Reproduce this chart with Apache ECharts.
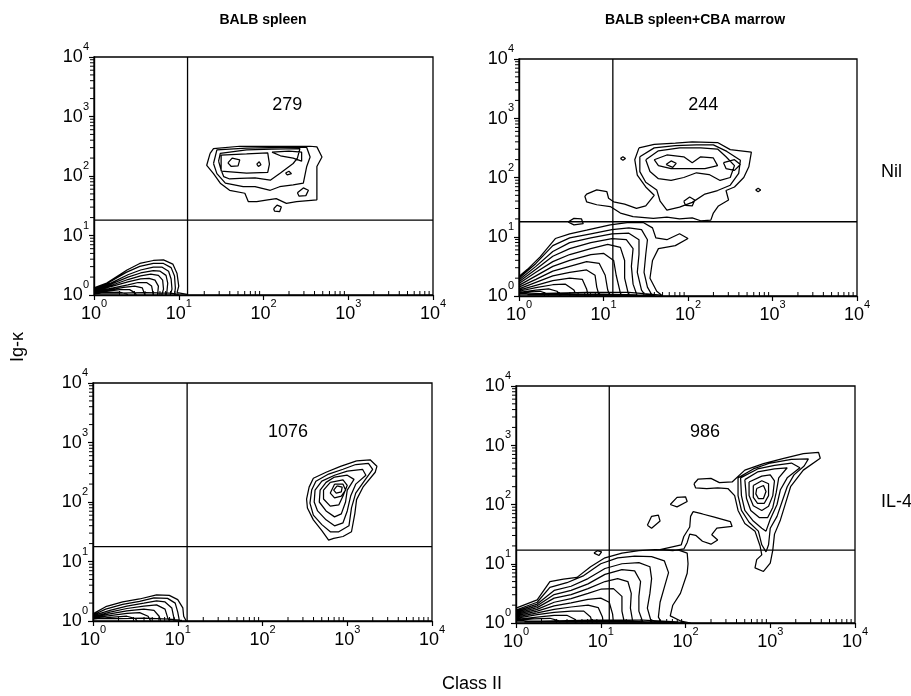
<!DOCTYPE html>
<html>
<head>
<meta charset="utf-8">
<script src="https://cdn.jsdelivr.net/npm/echarts@6/dist/echarts.min.js"></script>
<style>html,body{margin:0;padding:0;background:#fff}#c{width:911px;height:696px}</style>
</head>
<body>
<div id="c"></div>
<script>
// ---------- DATA (contour coordinates are given in decades, i.e. log10 of the value) ----------
const tickExps = ['0', '1', '2', '3', '4'];
const decadeStarts = [1, 10, 100, 1000];
const minorMultipliers = [2, 3, 4, 5, 6, 7, 8, 9];
const panelTitles = ['BALB spleen', 'BALB spleen+CBA marrow'];
const rowLabels = ['Nil', 'IL-4'];
const counts = [279, 244, 1076, 986];
const countPos = [[2.28, 3.19], [2.18, 3.22], [2.30, 3.18], [2.23, 3.22]];
const gateX = [12.7, 12.9, 12.9, 12.6];
const gateY = [18.2, 17.9, 17.8, 17.0];

const p1Upper = [
  [[1.37,2.38],[1.41,2.46],[1.72,2.5],[2.2,2.5],[2.55,2.5],[2.63,2.49],[2.69,2.32],[2.63,2.16],[2.63,1.82],[2.63,1.6],[2.39,1.57],[2.27,1.54],[2.15,1.62],[2.05,1.6],[1.92,1.57],[1.82,1.57],[1.78,1.71],[1.6,1.76],[1.49,1.88],[1.41,2.04],[1.33,2.18]],
  [[1.41,2.21],[1.45,2.44],[1.8,2.47],[2.2,2.48],[2.51,2.48],[2.55,2.32],[2.51,2.16],[2.47,1.88],[2.35,1.85],[2.19,1.82],[2.08,1.76],[1.9,1.82],[1.76,1.82],[1.55,1.88],[1.45,2.04]],
  [[1.47,2.25],[1.49,2.38],[1.8,2.44],[2.1,2.45],[2.43,2.46],[2.4,2.3],[2.35,2.21],[2.2,2.05],[2.08,1.93],[1.9,1.97],[1.72,1.96],[1.6,1.95],[1.53,1.99],[1.5,2.1]],
  [[1.5,2.08],[1.5,2.35],[1.8,2.37],[2.05,2.39],[2.07,2.2],[2.05,2.06],[1.8,2.05]],
  [[1.58,2.22],[1.63,2.3],[1.72,2.27],[1.7,2.17],[1.62,2.16]],
  [[1.92,2.2],[1.95,2.24],[1.97,2.19],[1.94,2.16]],
  [[2.26,2.05],[2.3,2.08],[2.33,2.04],[2.28,2.02]],
  [[2.4,1.72],[2.47,1.8],[2.53,1.76],[2.5,1.67],[2.42,1.66]],
  [[2.12,1.45],[2.16,1.51],[2.21,1.48],[2.19,1.4],[2.13,1.41]],
  [[2.1,2.4],[2.3,2.42],[2.45,2.4],[2.45,2.25],[2.35,2.3],[2.2,2.34]]
];
const p1Lower = [
  [[0,0.12],[0.15,0.2],[0.39,0.42],[0.54,0.53],[0.7,0.58],[0.82,0.59],[0.93,0.52],[0.98,0.36],[1.0,0.15],[0.98,0.04],[1.1,0.01],[1.1,0]],
  [[0,0.11],[0.15,0.19],[0.38,0.38],[0.54,0.48],[0.7,0.53],[0.82,0.53],[0.91,0.46],[0.95,0.32],[0.96,0.12],[0.95,0]],
  [[0,0.1],[0.2,0.2],[0.4,0.34],[0.55,0.42],[0.7,0.47],[0.8,0.47],[0.88,0.4],[0.91,0.27],[0.92,0.1],[0.9,0]],
  [[0,0.09],[0.2,0.18],[0.4,0.3],[0.55,0.37],[0.7,0.41],[0.78,0.4],[0.85,0.33],[0.87,0.2],[0.86,0.05],[0.85,0]],
  [[0,0.08],[0.2,0.16],[0.4,0.26],[0.55,0.32],[0.67,0.35],[0.76,0.33],[0.81,0.25],[0.82,0.1],[0.8,0]],
  [[0,0.07],[0.2,0.14],[0.4,0.22],[0.55,0.27],[0.65,0.28],[0.72,0.25],[0.76,0.15],[0.75,0]],
  [[0,0.06],[0.2,0.11],[0.4,0.17],[0.52,0.21],[0.62,0.21],[0.68,0.15],[0.7,0]],
  [[0,0.05],[0.2,0.09],[0.35,0.13],[0.48,0.15],[0.57,0.12],[0.6,0]],
  [[0,0.04],[0.15,0.06],[0.3,0.09],[0.42,0.09],[0.48,0.04],[0.5,0]],
  [[0,0.02],[0.15,0.04],[0.3,0.05],[0.38,0.02],[0.4,0]],
  [[0,0.03],[0.3,0.03],[0.6,0.04],[0.9,0.03],[1.0,0.01]]
];
const p2Upper = [
  [[1.42,2.5],[1.6,2.56],[1.85,2.58],[2.05,2.6],[2.35,2.59],[2.5,2.47],[2.75,2.43],[2.72,2.18],[2.66,2.0],[2.55,1.84],[2.45,1.78],[2.48,1.62],[2.36,1.52],[2.3,1.4],[2.27,1.28],[2.15,1.27],[2.05,1.32],[1.9,1.3],[1.75,1.33],[1.59,1.31],[1.35,1.34],[1.2,1.4],[1.08,1.51],[0.92,1.54],[0.8,1.59],[0.78,1.68],[0.8,1.72],[0.92,1.79],[1.04,1.76],[1.06,1.65],[1.12,1.59],[1.25,1.55],[1.39,1.48],[1.5,1.52],[1.6,1.7],[1.5,1.84],[1.4,2.04],[1.37,2.3]],
  [[1.43,2.35],[1.6,2.5],[1.85,2.54],[2.1,2.55],[2.3,2.55],[2.46,2.44],[2.62,2.29],[2.6,2.07],[2.5,1.87],[2.35,1.78],[2.2,1.72],[2.05,1.58],[1.9,1.5],[1.75,1.45],[1.67,1.6],[1.63,1.79],[1.5,1.92],[1.43,2.1]],
  [[1.5,2.3],[1.65,2.45],[1.9,2.5],[2.15,2.5],[2.35,2.48],[2.45,2.35],[2.55,2.2],[2.5,2.0],[2.38,1.95],[2.25,2.05],[2.1,2.08],[1.95,2.0],[1.8,1.95],[1.65,1.98],[1.55,2.1]],
  [[1.6,2.3],[1.75,2.38],[1.95,2.35],[2.05,2.25],[2.15,2.35],[2.3,2.33],[2.35,2.2],[2.2,2.15],[2.0,2.15],[1.8,2.15],[1.65,2.2]],
  [[1.74,2.22],[1.8,2.28],[1.86,2.24],[1.82,2.17]],
  [[1.95,1.6],[2.02,1.67],[2.08,1.62],[2.05,1.52],[1.97,1.53]],
  [[2.42,2.25],[2.55,2.3],[2.62,2.22],[2.55,2.12],[2.45,2.15]],
  [[1.2,2.32],[1.23,2.35],[1.26,2.32],[1.23,2.29]],
  [[2.8,1.79],[2.83,1.82],[2.86,1.79],[2.83,1.76]],
  [[0.58,1.25],[0.65,1.31],[0.74,1.3],[0.76,1.22],[0.65,1.2]]
];
const p2Lower = [
  [[0,0.33],[0.1,0.45],[0.25,0.66],[0.43,0.97],[0.6,1.05],[0.8,1.11],[1.08,1.2],[1.28,1.24],[1.47,1.24],[1.58,1.15],[1.62,0.98],[1.75,0.95],[1.9,1.05],[2.0,0.97],[1.85,0.85],[1.65,0.8],[1.58,0.6],[1.55,0.3],[1.63,0.08],[1.7,0]],
  [[0,0.3],[0.2,0.55],[0.4,0.85],[0.6,0.98],[0.85,1.05],[1.1,1.12],[1.3,1.15],[1.45,1.12],[1.52,0.95],[1.5,0.7],[1.48,0.4],[1.52,0.15],[1.58,0]],
  [[0,0.27],[0.2,0.5],[0.4,0.75],[0.6,0.9],[0.85,0.98],[1.1,1.05],[1.3,1.06],[1.42,0.95],[1.42,0.7],[1.4,0.4],[1.45,0.1],[1.5,0]],
  [[0,0.24],[0.2,0.45],[0.4,0.67],[0.6,0.8],[0.85,0.9],[1.1,0.97],[1.27,0.95],[1.35,0.8],[1.33,0.5],[1.35,0.2],[1.4,0]],
  [[0,0.21],[0.2,0.4],[0.4,0.58],[0.6,0.7],[0.85,0.8],[1.05,0.87],[1.2,0.82],[1.25,0.6],[1.25,0.3],[1.3,0]],
  [[0,0.18],[0.2,0.34],[0.4,0.5],[0.6,0.6],[0.85,0.7],[1.0,0.72],[1.12,0.6],[1.15,0.35],[1.2,0.05],[1.22,0]],
  [[0,0.15],[0.2,0.28],[0.4,0.42],[0.6,0.5],[0.8,0.58],[0.95,0.55],[1.02,0.35],[1.05,0.1],[1.08,0]],
  [[0,0.12],[0.2,0.23],[0.4,0.34],[0.6,0.4],[0.8,0.44],[0.9,0.35],[0.92,0.15],[0.95,0]],
  [[0,0.1],[0.2,0.18],[0.4,0.26],[0.6,0.3],[0.75,0.28],[0.8,0.12],[0.82,0]],
  [[0,0.08],[0.2,0.14],[0.4,0.19],[0.55,0.2],[0.65,0.1],[0.68,0]],
  [[0,0.06],[0.2,0.1],[0.35,0.12],[0.45,0.08],[0.5,0]],
  [[0,0.03],[0.2,0.04],[0.8,0.06],[1.3,0.06],[1.65,0.02],[1.7,0]],
  [[0,0.04],[0.15,0.07],[0.25,0.08],[0.33,0.04],[0.35,0]],
  [[0.1,0.02],[0.5,0.03],[1.0,0.03],[1.4,0.02],[1.6,0.01]]
];
const p3Upper = [
  [[3.11,2.69],[3.27,2.71],[3.35,2.6],[3.33,2.5],[3.19,2.26],[3.11,2.04],[3.09,1.81],[3.05,1.5],[2.95,1.42],[2.84,1.39],[2.78,1.36],[2.7,1.52],[2.6,1.7],[2.53,1.9],[2.52,2.05],[2.55,2.25],[2.6,2.4],[2.75,2.5],[2.92,2.6]],
  [[3.1,2.63],[3.25,2.65],[3.3,2.55],[3.2,2.35],[3.1,2.15],[3.05,1.9],[3.02,1.6],[2.9,1.5],[2.8,1.5],[2.7,1.62],[2.6,1.78],[2.56,1.98],[2.58,2.2],[2.63,2.35],[2.78,2.47],[2.95,2.55]],
  [[3.0,2.52],[3.18,2.55],[3.22,2.45],[3.1,2.3],[3.04,2.1],[3.0,1.85],[2.95,1.65],[2.85,1.6],[2.75,1.7],[2.65,1.85],[2.61,2.0],[2.62,2.2],[2.7,2.35],[2.85,2.45]],
  [[2.85,2.42],[3.0,2.45],[3.08,2.38],[3.0,2.2],[2.98,2.0],[2.93,1.8],[2.85,1.75],[2.75,1.85],[2.67,2.0],[2.68,2.2],[2.75,2.33]],
  [[2.8,2.33],[2.95,2.37],[3.0,2.28],[2.95,2.1],[2.9,1.95],[2.8,1.93],[2.72,2.05],[2.72,2.2]],
  [[2.85,2.3],[2.95,2.3],[2.98,2.2],[2.93,2.1],[2.85,2.07],[2.8,2.15]],
  [[2.88,2.27],[2.94,2.25],[2.93,2.17],[2.87,2.15],[2.84,2.2]]
];
const p3Lower = [
  [[0,0.12],[0.15,0.24],[0.35,0.32],[0.55,0.37],[0.75,0.44],[0.9,0.43],[1.0,0.36],[1.06,0.22],[1.07,0.08],[1.1,0]],
  [[0,0.1],[0.15,0.2],[0.35,0.28],[0.55,0.33],[0.72,0.39],[0.88,0.38],[0.97,0.3],[1.0,0.15],[1.02,0]],
  [[0,0.09],[0.2,0.18],[0.4,0.25],[0.6,0.3],[0.75,0.34],[0.85,0.32],[0.93,0.22],[0.95,0.08],[0.97,0]],
  [[0,0.07],[0.2,0.15],[0.4,0.21],[0.6,0.25],[0.75,0.27],[0.85,0.2],[0.88,0.06],[0.9,0]],
  [[0,0.06],[0.2,0.12],[0.4,0.17],[0.6,0.2],[0.72,0.18],[0.78,0.08],[0.8,0]],
  [[0,0.05],[0.2,0.09],[0.4,0.13],[0.55,0.14],[0.65,0.08],[0.68,0]],
  [[0,0.03],[0.2,0.06],[0.4,0.08],[0.5,0.04],[0.52,0]],
  [[0,0.04],[0.3,0.04],[0.6,0.05],[0.9,0.03],[1.05,0.01]]
];
const p4Upper = [
  [[2.1,2.35],[2.15,2.43],[2.3,2.44],[2.4,2.37],[2.55,2.38],[2.7,2.58],[2.92,2.69],[3.16,2.78],[3.39,2.86],[3.57,2.88],[3.59,2.78],[3.39,2.58],[3.24,2.3],[3.18,2.02],[3.12,1.74],[3.05,1.5],[3.03,1.23],[3.0,1.01],[2.92,0.87],[2.82,0.93],[2.84,1.07],[2.9,1.15],[2.88,1.3],[2.82,1.55],[2.7,1.68],[2.62,1.9],[2.58,2.15],[2.5,2.27],[2.38,2.28],[2.25,2.27],[2.12,2.28]],
  [[2.62,2.45],[2.8,2.6],[3.0,2.7],[3.25,2.76],[3.45,2.77],[3.4,2.65],[3.28,2.5],[3.2,2.3],[3.14,2.05],[3.08,1.8],[3.0,1.6],[2.98,1.32],[2.95,1.2],[2.9,1.32],[2.86,1.55],[2.75,1.7],[2.66,1.9],[2.62,2.15]],
  [[2.65,2.45],[2.85,2.6],[3.05,2.66],[3.25,2.7],[3.35,2.62],[3.2,2.45],[3.12,2.25],[3.08,2.0],[3.0,1.75],[2.95,1.55],[2.9,1.6],[2.8,1.72],[2.7,1.9],[2.66,2.15]],
  [[2.7,2.42],[2.85,2.55],[3.05,2.6],[3.2,2.62],[3.1,2.45],[3.07,2.2],[3.03,1.95],[2.97,1.78],[2.87,1.78],[2.77,1.9],[2.72,2.1]],
  [[2.75,2.38],[2.9,2.48],[3.0,2.5],[3.05,2.4],[3.03,2.15],[2.98,1.97],[2.9,1.9],[2.8,1.98],[2.75,2.15]],
  [[2.8,2.32],[2.9,2.4],[2.98,2.35],[2.98,2.15],[2.93,2.02],[2.85,2.02],[2.8,2.12]],
  [[2.84,2.27],[2.92,2.32],[2.95,2.22],[2.92,2.1],[2.86,2.1],[2.83,2.18]],
  [[1.82,2.0],[1.9,2.12],[2.0,2.13],[2.02,2.05],[1.9,1.96]],
  [[1.55,1.65],[1.6,1.8],[1.68,1.82],[1.7,1.72],[1.6,1.6]],
  [[2.09,1.88],[2.2,1.84],[2.33,1.79],[2.53,1.71],[2.55,1.63],[2.37,1.6],[2.31,1.49],[2.38,1.4],[2.3,1.33],[2.2,1.38],[2.12,1.48],[2.05,1.5],[2.02,1.36],[1.98,1.25],[1.85,1.22],[1.7,1.24],[1.95,1.32],[1.98,1.46],[2.05,1.62],[2.06,1.8]],
  [[0.92,1.18],[0.96,1.22],[1.01,1.2],[0.98,1.14]]
];
const p4Lower = [
  [[0,0.25],[0.25,0.39],[0.4,0.7],[0.56,0.74],[0.72,0.77],[0.88,0.95],[1.05,1.1],[1.25,1.18],[1.45,1.22],[1.64,1.24],[1.92,1.23],[2.02,1.18],[2.03,1.0],[2.02,0.84],[1.94,0.5],[1.85,0.3],[1.82,0.12],[1.95,0.03],[2.06,0]],
  [[0,0.22],[0.25,0.35],[0.4,0.6],[0.6,0.68],[0.8,0.8],[1.0,1.0],[1.2,1.1],[1.4,1.13],[1.6,1.12],[1.75,1.05],[1.8,0.85],[1.75,0.6],[1.7,0.35],[1.68,0.1],[1.72,0]],
  [[0,0.2],[0.25,0.32],[0.45,0.55],[0.65,0.62],[0.85,0.75],[1.05,0.92],[1.25,1.0],[1.45,1.02],[1.58,0.95],[1.6,0.75],[1.58,0.5],[1.55,0.25],[1.6,0]],
  [[0,0.18],[0.25,0.29],[0.45,0.48],[0.65,0.55],[0.85,0.66],[1.05,0.82],[1.25,0.9],[1.4,0.88],[1.47,0.7],[1.45,0.45],[1.45,0.2],[1.5,0]],
  [[0,0.16],[0.25,0.26],[0.45,0.42],[0.65,0.48],[0.85,0.58],[1.05,0.7],[1.2,0.75],[1.32,0.7],[1.36,0.5],[1.35,0.25],[1.38,0]],
  [[0,0.14],[0.25,0.23],[0.45,0.35],[0.65,0.41],[0.85,0.5],[1.0,0.57],[1.15,0.58],[1.25,0.45],[1.25,0.2],[1.28,0]],
  [[0,0.12],[0.25,0.2],[0.45,0.29],[0.65,0.34],[0.85,0.4],[1.0,0.42],[1.1,0.35],[1.14,0.15],[1.15,0]],
  [[0,0.1],[0.25,0.17],[0.45,0.23],[0.65,0.27],[0.85,0.3],[0.97,0.26],[1.02,0.1],[1.03,0]],
  [[0,0.08],[0.25,0.14],[0.45,0.18],[0.65,0.2],[0.8,0.2],[0.88,0.1],[0.9,0]],
  [[0,0.06],[0.25,0.1],[0.45,0.13],[0.6,0.13],[0.7,0.06],[0.72,0]],
  [[0,0.04],[0.2,0.07],[0.4,0.08],[0.5,0.04],[0.52,0]],
  [[0,0.03],[0.3,0.03],[0.9,0.05],[1.5,0.05],[1.9,0.02],[2.0,0]],
  [[0.1,0.02],[0.6,0.03],[1.2,0.03],[1.7,0.015],[1.9,0.01]]
];
const panelContours = [p1Upper.concat(p1Lower), p2Upper.concat(p2Lower), p3Upper.concat(p3Lower), p4Upper.concat(p4Lower)];

// ---------- LAYOUT ----------
const FONT = "'Liberation Sans', Arial, Helvetica, sans-serif";
const grids = [
  {left: 94, top: 57, width: 339, height: 238},
  {left: 519, top: 59, width: 338, height: 237},
  {left: 93, top: 383, width: 339, height: 238},
  {left: 516, top: 386, width: 339, height: 237}
];
const dec = v => Math.pow(10, v);

function contourData(list) {
  const out = [];
  list.forEach(c => {
    c.forEach(p => out.push([dec(p[0]), dec(p[1])]));
    const f = c[0];
    if (f[0] > 0 && f[1] > 0) out.push([dec(f[0]), dec(f[1])]); // closed loop
    out.push(['-', '-']);
  });
  return out;
}

// minor tick values (2..9 in each decade), drawn through the axes' own scale
const minorVals = [];
decadeStarts.forEach(d => minorMultipliers.forEach(m => minorVals.push(d * m)));
const minorTickData = [];
minorVals.forEach(v => { minorTickData.push([v, 1, 0]); minorTickData.push([1, v, 1]); });

const rich = {
  b: {fontSize: 18, fontFamily: FONT, color: '#000', lineHeight: 25, verticalAlign: 'bottom'},
  s: {fontSize: 11, fontFamily: FONT, color: '#000', lineHeight: 12, verticalAlign: 'top'}
};
const fmt = (v, i) => '{b|10}{s|' + tickExps[i] + '}';

const xAxis = [], yAxis = [], series = [];
grids.forEach((g, i) => {
  xAxis.push({
    type: 'log', logBase: 10, min: 1, max: 10000, gridIndex: i,
    axisLine: {lineStyle: {color: '#000', width: 1.4}},
    axisTick: {show: true, inside: false, length: 5, lineStyle: {color: '#000', width: 1.2}},
    minorTick: {show: false}, splitLine: {show: false},
    axisLabel: {formatter: fmt, rich: rich, margin: 3}
  });
  yAxis.push({
    type: 'log', logBase: 10, min: 1, max: 10000, gridIndex: i,
    axisLine: {lineStyle: {color: '#000', width: 1.4}},
    axisTick: {show: true, inside: false, length: 5, lineStyle: {color: '#000', width: 1.2}},
    minorTick: {show: false},
    splitLine: {show: false},
    axisLabel: {formatter: fmt, rich: rich, margin: 5, padding: [0, 0, 6, 0]}
  });
  series.push({
    type: 'line', xAxisIndex: i, yAxisIndex: i, symbol: 'none', silent: true,
    connectNulls: false, animation: false,
    lineStyle: {color: '#000', width: 1.25},
    data: contourData(panelContours[i])
  });
  series.push({
    type: 'line', xAxisIndex: i, yAxisIndex: i, symbol: 'none', silent: true,
    connectNulls: false, animation: false,
    lineStyle: {color: '#000', width: 1.3},
    data: [[1, gateY[i]], [10000, gateY[i]], ['-', '-'], [gateX[i], 1], [gateX[i], 10000]]
  });
  series.push({
    type: 'custom', xAxisIndex: i, yAxisIndex: i, silent: true, animation: false, clip: false,
    data: minorTickData,
    renderItem: (params, api) => {
      const p = api.coord([api.value(0), api.value(1)]);
      const isY = api.value(2) === 1;
      return {
        type: 'line',
        shape: isY ? {x1: p[0] - 4, y1: p[1], x2: p[0], y2: p[1]} : {x1: p[0], y1: p[1], x2: p[0], y2: p[1] - 4},
        style: {stroke: '#000', lineWidth: 1}
      };
    }
  });
  series.push({
    type: 'scatter', xAxisIndex: i, yAxisIndex: i, symbolSize: 0, silent: true, animation: false,
    itemStyle: {opacity: 1},
    data: [[dec(countPos[i][0]), dec(countPos[i][1]), counts[i]]],
    label: {show: true, position: 'inside', formatter: p => String(p.value[2]), opacity: 1,
      color: '#000', fontSize: 18, fontFamily: FONT}
  });
});

const chart = echarts.init(document.getElementById('c'), null, {renderer: 'canvas'});
chart.setOption({
  backgroundColor: '#fff',
  animation: false,
  grid: grids.map(g => Object.assign({show: true, borderColor: '#000', borderWidth: 1.3, backgroundColor: 'transparent', containLabel: false}, g)),
  xAxis: xAxis,
  yAxis: yAxis,
  series: series,
  graphic: [
    {type: 'text', x: 263, y: 20, style: {text: panelTitles[0], font: 'bold 14px ' + FONT, fill: '#000', textAlign: 'center', textVerticalAlign: 'middle'}},
    {type: 'text', x: 695, y: 20, style: {text: panelTitles[1], font: 'bold 14px ' + FONT, fill: '#000', textAlign: 'center', textVerticalAlign: 'middle'}},
    {type: 'text', x: 881, y: 172, style: {text: rowLabels[0], font: '18px ' + FONT, fill: '#000', textAlign: 'left', textVerticalAlign: 'middle'}},
    {type: 'text', x: 881, y: 502, style: {text: rowLabels[1], font: '18px ' + FONT, fill: '#000', textAlign: 'left', textVerticalAlign: 'middle'}},
    {type: 'text', x: 18, y: 347, rotation: Math.PI / 2, style: {text: 'Ig-κ', font: '18px ' + FONT, fill: '#000', textAlign: 'center', textVerticalAlign: 'middle'}},
    {type: 'text', x: 472, y: 684, style: {text: 'Class II', font: '18px ' + FONT, fill: '#000', textAlign: 'center', textVerticalAlign: 'middle'}}
  ]
});
</script>
</body>
</html>
